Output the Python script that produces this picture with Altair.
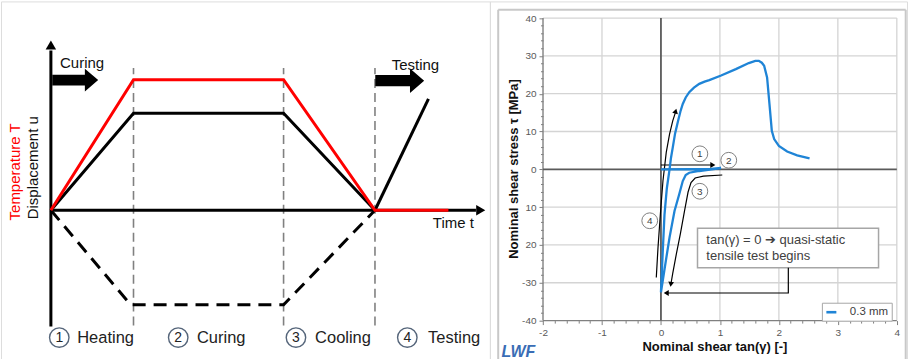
import altair as alt
import pandas as pd

FONT = "Liberation Sans"

# ===================== LEFT PANEL: process schematic (time t / value, schematic units) =====================
phase_bounds_t = [2.07, 5.83, 8.12]
temp_t = [0.0, 2.07, 5.83, 8.12, 9.96]
temp_v = [0.0, 3.27, 3.27, 0.0, 0.0]
disp_t = [0.0, 2.07, 5.83, 8.12]
disp_v = [0.0, 2.43, 2.43, 0.0]
test_t = [8.12, 9.46]
test_v = [0.0, 2.79]
shrink_t = [0.0, 2.0, 5.83, 8.12]
shrink_v = [0.0, -2.37, -2.37, 0.0]
phase_nums = ["1", "2", "3", "4"]
phase_names = ["Heating", "Curing", "Cooling", "Testing"]
phase_num_t = [0.21, 3.19, 6.14, 8.93]
phase_name_t = [0.66, 3.66, 6.62, 9.45]
phase_label_v = [-3.19, -3.19, -3.19, -3.19]
block_arrow_t = [0.61, 8.74]
block_arrow_v = [3.26, 3.245]
block_label = ["Curing", "Testing"]
block_label_t = [0.23, 8.54]
block_label_v = [3.69, 3.65]

# ===================== RIGHT PANEL: nominal shear stress vs nominal shear =====================
blue_x = [0.0, 0.5, 0.85, 1.02, 0.8, 0.65, 0.48, 0.42, 0.37, 0.31, 0.23, 0.146, 0.085, 0.0,
          0.03, 0.06, 0.10, 0.146, 0.17, 0.20, 0.24, 0.29, 0.33, 0.37, 0.42, 0.48, 0.56,
          0.65, 0.74, 0.82, 1.02, 1.27, 1.49, 1.60, 1.66, 1.71, 1.75, 1.80, 1.84, 1.88,
          1.92, 2.0, 2.14, 2.31, 2.52]
blue_y = [0.0, 0.02, 0.1, 0.35, -0.15, -0.44, -0.9, -1.5, -3.1, -6.6, -11.0, -18.0, -24.0, -32.5,
          -22.0, -12.0, -5.0, 0.0, 3.0, 5.75, 9.5, 12.8, 15.3, 17.3, 19.0, 20.4, 21.6,
          22.6, 23.2, 23.6, 24.8, 26.5, 28.1, 28.7, 28.7, 28.2, 27.4, 24.3, 17.3, 10.2,
          8.0, 6.2, 4.7, 3.7, 2.9]
series_name = "0.3 mm"

arrow1_x = [0.0, 0.86]
arrow1_y = [1.15, 1.15]
arrow3_x = [1.04, 0.72, 0.58, 0.51, 0.46, 0.40, 0.33, 0.26, 0.20, 0.175]
arrow3_y = [-1.5, -1.8, -2.3, -3.5, -6.0, -11.0, -17.0, -22.5, -27.5, -29.8]
arrow4_x = [-0.079, -0.05, -0.01, 0.034, 0.09, 0.146, 0.20, 0.245]
arrow4_y = [-28.6, -20.7, -11.9, -3.1, 4.5, 9.3, 12.8, 15.0]
conn_x = [2.16, 2.16, 0.10]
conn_y = [-26.0, -32.7, -32.7]
head_x = [0.88, 0.168, 0.25, 0.09]
head_y = [1.15, -30.4, 15.4, -32.7]
head_angle = [90, 187, 14, 270]

step_nums = ["1", "2", "3", "4"]
step_x = [0.66, 1.15, 0.66, -0.19]
step_y = [4.1, 2.4, -5.8, -13.6]

note_lines = ["tan(\u03b3) = 0 \u2794 quasi-static", "tensile test begins"]
note_x = [0.77, 0.77]
note_y = [-18.7, -23.0]
note_box = {"x1": [0.62], "x2": [3.69], "y1": [-15.6], "y2": [-26.0]}

x_ticks = [-2, -1, 0, 1, 2, 3, 4]
x_tick_text = ["-2", "-1", "0", "1", "2", "3", "4"]
y_ticks = [-40, -30, -20, -10, 0, 10, 20, 30, 40]
y_tick_text = ["-40", "-30", "20", "10", "0", "10", "20", "30", "40"]
x_minor = [round(-2 + 0.2 * k, 1) for k in range(31) if k % 5]
y_minor = [v for v in range(-40, 41, 2) if v % 10]
grid_x = [-1, 1, 2, 3, 4]
grid_y = [-30, -20, -10, 10, 20, 30, 40]

# ===================== LEFT PANEL CHART =====================
LX = alt.Scale(domain=[-1.25, 11.0], nice=False, zero=False)
LY = alt.Scale(domain=[-3.7425, 5.2325], nice=False, zero=False)


def lx(f):
    return alt.X(f, type="quantitative", scale=LX, axis=None)


def ly(f):
    return alt.Y(f, type="quantitative", scale=LY, axis=None)


def line_df(xs, ys):
    return pd.DataFrame({"x": xs, "y": ys, "i": list(range(len(xs)))})


vlines = alt.Chart(pd.DataFrame({"t": phase_bounds_t, "lo": -2.89, "hi": 3.565})).mark_rule(
    color="#808080", strokeWidth=1.6, strokeDash=[9, 5]
).encode(x=lx("t"), y=ly("lo"), y2="hi")

shrink = alt.Chart(line_df(shrink_t, shrink_v)).mark_line(
    color="black", strokeWidth=3, strokeDash=[13, 8]
).encode(x=lx("x"), y=ly("y"), order="i:Q")

v_axis = alt.Chart(pd.DataFrame({"t": [0.0], "lo": [-2.91], "hi": [4.0]})).mark_rule(
    color="black", strokeWidth=3
).encode(x=lx("t"), y=ly("lo"), y2="hi")

t_axis = alt.Chart(pd.DataFrame({"v": [0.0], "lo": [0.0], "hi": [10.65]})).mark_rule(
    color="black", strokeWidth=3
).encode(y=ly("v"), x=lx("lo"), x2="hi")

axis_heads = alt.Chart(pd.DataFrame({"t": [0.0, 10.77], "v": [4.14, 0.0], "a": [0, 90]})).mark_point(
    shape="triangle-up", filled=True, color="black", size=110, opacity=1
).encode(x=lx("t"), y=ly("v"), angle=alt.Angle("a:Q", scale=None))

disp = alt.Chart(line_df(disp_t, disp_v)).mark_line(color="black", strokeWidth=3).encode(
    x=lx("x"), y=ly("y"), order="i:Q")
test = alt.Chart(line_df(test_t, test_v)).mark_line(color="black", strokeWidth=3).encode(
    x=lx("x"), y=ly("y"), order="i:Q")
temp = alt.Chart(line_df(temp_t, temp_v)).mark_line(color="#ff0000", strokeWidth=3).encode(
    x=lx("x"), y=ly("y"), order="i:Q")

BLOCK = "M -1 -0.23 L 0.42 -0.23 L 0.42 -0.5 L 1 0 L 0.42 0.5 L 0.42 0.23 L -1 0.23 Z"
blocks = alt.Chart(pd.DataFrame({"t": block_arrow_t, "v": block_arrow_v, "s": [2116, 2401]})).mark_point(
    shape=BLOCK, filled=True, color="black", opacity=1, strokeWidth=0
).encode(x=lx("t"), y=ly("v"), size=alt.Size("s:Q", scale=None))

block_txt = alt.Chart(pd.DataFrame({"t": block_label_t, "v": block_label_v, "txt": block_label})).mark_text(
    font=FONT, fontSize=15, align="left", baseline="middle", color="#111"
).encode(x=lx("t"), y=ly("v"), text="txt:N")

time_txt = alt.Chart(pd.DataFrame({"t": [9.57], "v": [-0.31], "txt": ["Time t"]})).mark_text(
    font=FONT, fontSize=15, align="left", baseline="middle", color="#111"
).encode(x=lx("t"), y=ly("v"), text="txt:N")

ylab = alt.Chart(pd.DataFrame({"t": [-0.9, -0.44], "v": [0.96, 1.065],
                               "txt": ["Temperature T", "Displacement u"],
                               "c": ["#ff0000", "#111111"]})).mark_text(
    font=FONT, fontSize=15, align="center", baseline="middle", angle=270
).encode(x=lx("t"), y=ly("v"), text="txt:N", color=alt.Color("c:N", scale=None))

phase_circ = alt.Chart(pd.DataFrame({"t": phase_num_t, "v": phase_label_v})).mark_point(
    shape="circle", size=380, filled=False, color="#55657a", strokeWidth=1.4, opacity=1
).encode(x=lx("t"), y=ly("v"))
phase_num = alt.Chart(pd.DataFrame({"t": phase_num_t, "v": phase_label_v, "txt": phase_nums})).mark_text(
    font=FONT, fontSize=14, align="center", baseline="middle", color="#222", dy=0.5
).encode(x=lx("t"), y=ly("v"), text="txt:N")
phase_txt = alt.Chart(pd.DataFrame({"t": phase_name_t, "v": phase_label_v, "txt": phase_names})).mark_text(
    font=FONT, fontSize=16.5, align="left", baseline="middle", color="#222"
).encode(x=lx("t"), y=ly("v"), text="txt:N")

left = alt.layer(
    vlines, shrink, v_axis, t_axis, axis_heads, disp, test, temp, blocks, block_txt,
    time_txt, ylab, phase_circ, phase_num, phase_txt
).properties(width=490, height=359)

# ===================== RIGHT PANEL CHART =====================
RX = alt.Scale(domain=[-2.9002, 4.1726], nice=False, zero=False)
RY = alt.Scale(domain=[-50.32, 44.41], nice=False, zero=False)


def rx(f, axis=None):
    return alt.X(f, type="quantitative", scale=RX, axis=axis)


def ry(f, axis=None):
    return alt.Y(f, type="quantitative", scale=RY, axis=axis)


TICKS = dict(domain=False, grid=False, tickColor="#7f7f7f", tickWidth=1)
x_lab_expr = "[" + ",".join("'%s'" % s for s in x_tick_text) + "][datum.value + 2]"
y_lab_expr = "[" + ",".join("'%s'" % s for s in y_tick_text) + "][(datum.value + 40) / 10]"

y_major_axis = alt.Axis(
    orient="left", offset=-53.2, values=y_ticks, tickSize=4, labelPadding=3,
    labelExpr=y_lab_expr, labelFont=FONT, labelFontSize=10, labelColor="#595959",
    title="Nominal shear stress \u03c4 [MPa]", titleFont=FONT, titleFontSize=13,
    titleFontWeight="bold", titleColor="#111", titleAngle=270, titleX=-29.2, titleY=167.5,
    titleAlign="center", titleBaseline="middle", **TICKS)
y_minor_axis = alt.Axis(orient="left", offset=-53.2, values=y_minor, tickSize=2.5,
                        labels=False, title=None, **TICKS)
x_major_axis = alt.Axis(
    orient="bottom", offset=-39.1, values=x_ticks, tickSize=4, labelPadding=3,
    labelExpr=x_lab_expr, labelFont=FONT, labelFontSize=10, labelColor="#595959",
    title="Nominal shear tan(\u03b3) [-]", titleFont=FONT, titleFontSize=13,
    titleFontWeight="bold", titleColor="#111", titleX=225, titleY=26, titleAngle=0,
    titleAlign="center", titleBaseline="middle", **TICKS)
x_minor_axis = alt.Axis(orient="bottom", offset=-39.1, values=x_minor, tickSize=2.5,
                        labels=False, title=None, **TICKS)

one = pd.DataFrame({"k": [0]})
frame_l = alt.Chart(one).mark_rule(color="#c8c8c8", strokeWidth=2).encode(
    x=alt.value(8.3), y=alt.value(8.3), y2=alt.value(359))
frame_t = alt.Chart(one).mark_rule(color="#c8c8c8", strokeWidth=2).encode(
    x=alt.value(8.3), x2=alt.value(416.7), y=alt.value(8.3))
frame_r = alt.Chart(one).mark_rule(color="#c8c8c8", strokeWidth=2).encode(
    x=alt.value(416.7), y=alt.value(8.3), y2=alt.value(359))

vgrid = alt.Chart(pd.DataFrame({"x": grid_x, "lo": -40, "hi": 40})).mark_rule(
    color="#d4d4d4", strokeWidth=1.3).encode(x=rx("x"), y=ry("lo"), y2="hi")
hgrid = alt.Chart(pd.DataFrame({"y": grid_y, "lo": -2, "hi": 4})).mark_rule(
    color="#d4d4d4", strokeWidth=1.3).encode(y=ry("y"), x=rx("lo"), x2="hi")

y_axis_line = alt.Chart(pd.DataFrame({"x": [-2], "lo": [-40], "hi": [40]})).mark_rule(
    color="#808080", strokeWidth=1.4).encode(x=rx("x"), y=ry("lo", axis=y_major_axis), y2="hi")
x_axis_line = alt.Chart(pd.DataFrame({"y": [-40], "lo": [-2], "hi": [4]})).mark_rule(
    color="#808080", strokeWidth=1.4).encode(y=ry("y"), x=rx("lo", axis=x_major_axis), x2="hi")

zero_v = alt.Chart(pd.DataFrame({"x": [0], "lo": [-40], "hi": [40]})).mark_rule(
    color="#5a5a5a", strokeWidth=1.8).encode(x=rx("x"), y=ry("lo", axis=y_minor_axis), y2="hi")
zero_h = alt.Chart(pd.DataFrame({"y": [0], "lo": [-2], "hi": [4]})).mark_rule(
    color="#5a5a5a", strokeWidth=1.8).encode(y=ry("y"), x=rx("lo", axis=x_minor_axis), x2="hi")

box = alt.Chart(pd.DataFrame(note_box)).mark_rect(
    fill="white", stroke="#a6a6a6", strokeWidth=1.5).encode(
    x=rx("x1"), x2="x2", y=ry("y1"), y2="y2")
box_txt = alt.Chart(pd.DataFrame({"x": note_x, "y": note_y, "txt": note_lines})).mark_text(
    font="Liberation Sans, DejaVu Sans", fontSize=13, align="left", baseline="middle", color="#404040"
).encode(x=rx("x"), y=ry("y"), text="txt:N")

arrows_df = pd.concat([
    line_df(arrow1_x, arrow1_y).assign(g="a1"),
    line_df(arrow3_x, arrow3_y).assign(g="a3"),
    line_df(arrow4_x, arrow4_y).assign(g="a4"),
    line_df(conn_x, conn_y).assign(g="c"),
])
arrows = alt.Chart(arrows_df).mark_line(color="black", strokeWidth=1.2).encode(
    x=rx("x"), y=ry("y"), detail="g:N", order="i:Q")
heads = alt.Chart(pd.DataFrame({"x": head_x, "y": head_y, "a": head_angle})).mark_point(
    shape="triangle-up", filled=True, color="black", size=34, opacity=1
).encode(x=rx("x"), y=ry("y"), angle=alt.Angle("a:Q", scale=None))

blue_df = line_df(blue_x, blue_y).assign(s=series_name)
blue = alt.Chart(blue_df).mark_line(strokeWidth=2.3).encode(
    x=rx("x"), y=ry("y"), order="i:Q",
    color=alt.Color("s:N", scale=alt.Scale(range=["#1f84d6"]),
                    legend=alt.Legend(orient="none", legendX=822.7, legendY=302.0, title=None,
                                      symbolType="stroke", symbolStrokeWidth=2.6, symbolSize=100,
                                      labelFont=FONT, labelFontSize=11.5, labelColor="#404040",
                                      labelOffset=12, padding=3, strokeColor="#a6a6a6",
                                      fillColor="white")))

step_circ = alt.Chart(pd.DataFrame({"x": step_x, "y": step_y})).mark_point(
    shape="circle", size=250, filled=False, color="#7f7f7f", strokeWidth=1, opacity=1
).encode(x=rx("x"), y=ry("y"))
step_txt = alt.Chart(pd.DataFrame({"x": step_x, "y": step_y, "txt": step_nums})).mark_text(
    font=FONT, fontSize=10, align="center", baseline="middle", color="#404040", dy=0.5
).encode(x=rx("x"), y=ry("y"), text="txt:N")

logo = alt.Chart(one).mark_text(
    font=FONT, fontSize=16, fontWeight="bold", fontStyle="italic", align="left",
    baseline="bottom", color="#3a6db5", text="LWF"
).encode(x=alt.value(11.7), y=alt.value(359))

right = alt.layer(
    frame_l, frame_t, frame_r, vgrid, hgrid, y_axis_line, x_axis_line, zero_v, zero_h,
    box, box_txt, arrows, heads, blue, step_circ, step_txt, logo
).resolve_axis(x="independent", y="independent").properties(width=418, height=359)

chart = alt.hconcat(left, right, spacing=0, bounds="flush").properties(padding=0).configure_view(
    stroke=None
).configure(background="white")

chart.save("out.html", embed_options={"renderer": "svg", "actions": False})
